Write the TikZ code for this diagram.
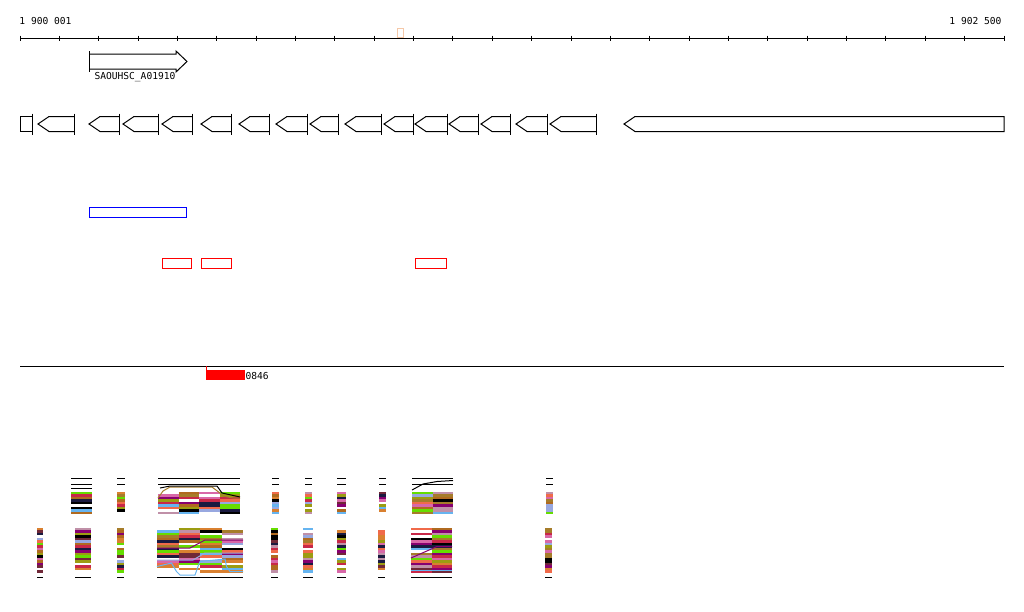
\documentclass[tikz,border=0pt]{standalone}
\usepackage{fontspec}
\setmonofont{DejaVu Sans Mono}
\usepackage{tikz}
\usepackage{color}

\definecolor{trk1}{HTML}{A67C2A}
\definecolor{trk2}{HTML}{D98030}
\definecolor{trk3}{HTML}{F06A4A}
\definecolor{trk4}{HTML}{66DD00}
\definecolor{trk5}{HTML}{9C9C12}
\definecolor{trk6}{HTML}{880070}
\definecolor{trk7}{HTML}{D868A8}
\definecolor{trk8}{HTML}{C090A8}
\definecolor{trk9}{HTML}{1A1A40}
\definecolor{trk10}{HTML}{66B4F0}
\definecolor{trk11}{HTML}{98A8E0}
\definecolor{trk12}{HTML}{C82848}
\definecolor{trk13}{HTML}{000000}
\definecolor{trk14}{HTML}{702838}
\definecolor{trk15}{HTML}{FFFFFF}
\definecolor{trk16}{HTML}{B06A20}
\definecolor{trk17}{HTML}{FFFFFF}
\definecolor{peach}{HTML}{F5C8A8}

\begin{document}
\begin{tikzpicture}
  [
    x=1pt, y=-1pt,
    line width=1pt,
    gene/.style  = {draw=black, line width=1pt},
    lbl/.style   = {font=\ttfamily\fontsize{9.6}{10}\selectfont, inner sep=0pt},
    read/.style  = {line width=2.2pt},
  ]
 \useasboundingbox[fill=white] (0,0) rectangle (1024,611);
 \pgfmathsetseed{4242}

 % ruler
 \node[lbl, anchor=base west] (startpos) at (19,24) {1 900 001};
 \node[lbl, anchor=base east] (endpos) at (1002,24) {1 902 500};
 \draw (20,38) -- (1004,38);
 \foreach \i in {0,...,25}
   \draw ({20+\i*39.36},35.5) -- ++(0,5);
 \draw[peach] (397.5,28.5) rectangle (403.5,37.5);

 % forward gene
 \draw[gene] (89,51) -- (89,72);
 \draw[gene] (89,54) -- (176,54) -- (176,51) -- (187,61.5) -- (176,72) -- (176,69) -- (89,69);
 \node[lbl, anchor=base west] (genename) at (94,79.5) {SAOUHSC\_A01910};

 % reverse genes
 \draw[gene] (20,116.5) rectangle (32,131.5);
 \draw[gene] (32,113.5) -- (32,134.5);
 \foreach \a/\b in {38/74, 89/119, 123/158, 162/192, 201/231, 239/269, 276/307,
                    310/338, 345/381, 384/413, 415/447, 449/478, 481/510, 516/547, 550/596}
 {
   \draw[gene] (\b,113.5) -- (\b,134.5);
   \draw[gene] (\b,116.5) -- ({\a+11},116.5) -- (\a,124) -- ({\a+11},131.5) -- (\b,131.5);
 }
 \draw[gene] (1004,116.5) -- (635,116.5) -- (624,124) -- (635,131.5) -- (1004,131.5) -- cycle;

 % features
 \draw[blue] (89.5,207.5) rectangle (186.5,217.5);
 \draw[red] (162.5,258.5) rectangle (191.5,268.5);
 \draw[red] (201.5,258.5) rectangle (231.5,268.5);
 \draw[red] (415.5,258.5) rectangle (446.5,268.5);

 % second strand
 \draw (20,366) -- (1004,366);
 \node[lbl, anchor=base west] (featlbl) at (245,379) {0846};
 \fill[red] (206,370) rectangle (245,379.5);
 \draw[red] (206,366) -- (206,379.5);

 % upper read stack
 \foreach \xa/\xb in {71/92, 117/125, 158/178.5, 178.5/199, 199/219.5, 219.5/240,
                      272/279, 305/312, 337/346, 379/386, 412/432.5, 432.5/453, 546/553}
 {
   \draw (\xa,478.5) -- (\xb,478.5) (\xa,484.5) -- (\xb,484.5);
   \foreach \y in {493,495.5,...,513}
   {
     \pgfmathrandominteger{\c}{1}{17}
     \draw[read, trk\c] (\xa,\y) -- (\xb,\y);
   }
 }
 \draw (71,488.5) -- (92,488.5);
 \draw[trk1] (158,498) -- (163,491) -- (170,487) -- (212,487) -- (220,493) -- (223,496) -- (233,498) -- (240,498);
 \draw (160,488) -- (170,486) -- (217,486) -- (222,493) -- (240,497);
 \draw (412,490) -- (423,484) -- (437,481.5) -- (453,480.5);

 % lower read stack
 \foreach \xa/\xb in {37/43, 75/91, 117/124, 157/178.5, 178.5/200, 200/221.5, 221.5/243,
                      271/278, 303/313, 337/346, 378/385, 411/431.5, 431.5/452, 545/552}
 {
   \draw (\xa,577.5) -- (\xb,577.5);
   \foreach \y in {529,531.5,...,573}
   {
     \pgfmathrandominteger{\c}{1}{17}
     \draw[read, trk\c] (\xa,\y) -- (\xb,\y);
   }
 }
 \draw[trk10] (157,566.5) -- (171.5,563) -- (176.5,571.5) -- (180,575) -- (195,575) -- (198,566.5)
   -- (200,561.5) -- (225,559) -- (226.5,566.5) -- (230,571.5) -- (243,571.5);
 \draw[trk6] (157,548) -- (190,548) -- (205,540) -- (243,540);
 \draw[trk11] (157,560) -- (193,560) -- (205,553) -- (243,553);
 \draw[trk6] (411,558) -- (437,546.5) -- (452,546.5);
 \draw[trk10] (411,570) -- (452,570);
\end{tikzpicture}
\end{document}
